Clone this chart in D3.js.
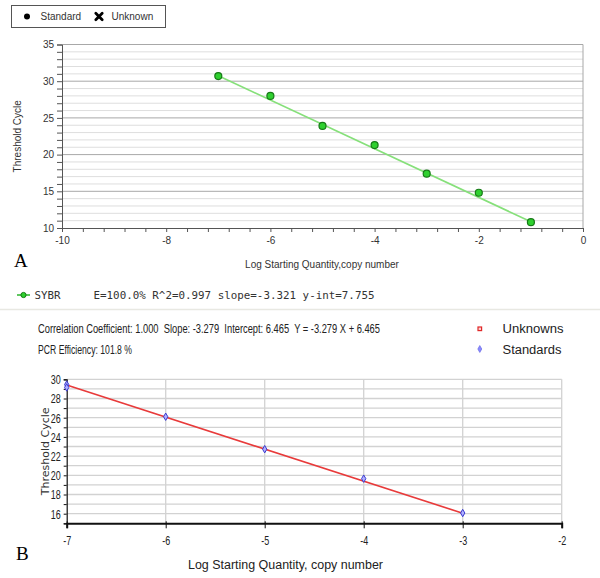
<!DOCTYPE html>
<html>
<head>
<meta charset="utf-8">
<script src="https://cdn.jsdelivr.net/npm/d3@7"></script>
<style>
  html, body { margin: 0; padding: 0; background: #fff; }
  svg { display: block; }
</style>
</head>
<body>
<svg id="chart" width="600" height="578"></svg>
<script>
// ---------- Data: panel A ----------
const stdLogQtyA = [-7, -6, -5, -4, -3, -2, -1];
const stdCtA = [30.7, 28.0, 23.9, 21.3, 17.4, 14.8, 10.8];
const fitLogQtyA = [-7, -1];
const fitCtA = [30.75, 10.85];
const yMajorTicksA = [10, 15, 20, 25, 30, 35];
const xLabelTicksA = [-10, -8, -6, -4, -2, 0];
const statsA = "E=100.0% R^2=0.997 slope=-3.321 y-int=7.755";

// ---------- Data: panel B ----------
const stdLogQtyB = [-7, -7, -6, -5, -4, -3];
const stdCtB = [29.45, 29.15, 26.1, 22.72, 19.65, 16.07];
const fitLogQtyB = [-7, -3];
const fitCtB = [29.4, 16.05];
const yLabelTicksB = [16, 18, 20, 22, 24, 26, 28, 30];
const xTicksB = [-7, -6, -5, -4, -3, -2];
const statsB1 = "Correlation Coefficient: 1.000  Slope: -3.279  Intercept: 6.465  Y = -3.279 X + 6.465";
const statsB2 = "PCR Efficiency: 101.8 %";

const svg = d3.select("#chart");
const sans = "'Liberation Sans', Arial, sans-serif";
const narrow = "'Liberation Sans Narrow', 'Liberation Sans', Arial, sans-serif";

// =================== PANEL A ===================
const xA = d3.scaleLinear().domain([-10, 0]).range([62, 583]);
const yA = d3.scaleLinear().domain([10, 35]).range([228, 44.5]);
const gA = svg.append("g");

// legend box
const leg = gA.append("g");
leg.append("rect").attr("x", 11.5).attr("y", 5.5).attr("width", 154).attr("height", 22)
  .attr("fill", "#fff").attr("stroke", "#555").attr("stroke-width", 1);
leg.append("circle").attr("cx", 27).attr("cy", 16.5).attr("r", 3).attr("fill", "#000");
leg.append("text").attr("x", 40.5).attr("y", 20).attr("font-family", sans).attr("font-size", 10)
  .attr("fill", "#333").text("Standard");
const cx = 99, cy = 16.5, s = 3.2;
leg.append("path").attr("d", `M${cx - s},${cy - s}L${cx + s},${cy + s}M${cx + s},${cy - s}L${cx - s},${cy + s}`)
  .attr("stroke", "#000").attr("stroke-width", 2.8).attr("stroke-linecap", "round");
leg.append("text").attr("x", 111.5).attr("y", 20).attr("font-family", sans).attr("font-size", 10)
  .attr("fill", "#333").text("Unknown");

// minor gridlines
const minorY = d3.range(10, 35.5, 1);
gA.append("g").selectAll("line").data(minorY.filter(v => v % 5 !== 0)).join("line")
  .attr("x1", xA(-10)).attr("x2", xA(0)).attr("y1", d => yA(d)).attr("y2", d => yA(d))
  .attr("stroke", "#dedede").attr("stroke-width", 1);
// major gridlines
gA.append("g").selectAll("line").data(yMajorTicksA.filter(v => v > 10)).join("line")
  .attr("x1", xA(-10)).attr("x2", xA(0)).attr("y1", d => yA(d)).attr("y2", d => yA(d))
  .attr("stroke", "#a8a8a8").attr("stroke-width", 1);
// right border
gA.append("line").attr("x1", xA(0)).attr("x2", xA(0)).attr("y1", yA(35)).attr("y2", yA(10))
  .attr("stroke", "#a8a8a8");

// y axis A
const yAxA = gA.append("g").attr("transform", `translate(${xA(-10)},0)`)
  .call(d3.axisLeft(yA).tickValues(minorY).tickSize(5).tickPadding(3)
    .tickFormat(d => d % 5 === 0 ? d : ""));
yAxA.selectAll("text").attr("font-family", sans).attr("font-size", 10).attr("fill", "#333");
yAxA.selectAll("line").attr("stroke", "#555");
yAxA.select(".domain").attr("stroke", "#555");

// x axis A
const xMinorA = d3.range(0, 26).map(i => -10 + i * 0.4);
const xAxA = gA.append("g").attr("transform", `translate(0,${yA(10)})`)
  .call(d3.axisBottom(xA).tickValues(xMinorA).tickSize(4).tickPadding(5)
    .tickFormat(d => {
      const r = Math.round(d);
      return (Math.abs(d - r) < 1e-6 && xLabelTicksA.includes(r)) ? String(r) : "";
    }));
xAxA.selectAll("text").attr("font-family", sans).attr("font-size", 10).attr("fill", "#333");
xAxA.selectAll("line").attr("stroke", "#555");
xAxA.select(".domain").attr("stroke", "#555");

// axis titles A
gA.append("text").attr("transform", `translate(21,${(yA(35) + yA(10)) / 2}) rotate(-90)`)
  .attr("text-anchor", "middle").attr("font-family", sans).attr("font-size", 10).attr("fill", "#333")
  .text("Threshold Cycle");
gA.append("text").attr("x", 322).attr("y", 268).attr("text-anchor", "middle")
  .attr("font-family", sans).attr("font-size", 10).attr("fill", "#333")
  .text("Log Starting Quantity,copy number");

// fit line A
gA.append("line")
  .attr("x1", xA(fitLogQtyA[0])).attr("y1", yA(fitCtA[0]))
  .attr("x2", xA(fitLogQtyA[1])).attr("y2", yA(fitCtA[1]))
  .attr("stroke", "#86e07a").attr("stroke-width", 1.6);

// points A
gA.append("g").selectAll("circle").data(stdLogQtyA.map((x, i) => [x, stdCtA[i]])).join("circle")
  .attr("cx", d => xA(d[0])).attr("cy", d => yA(d[1])).attr("r", 3.5)
  .attr("fill", "#2fd02f").attr("stroke", "#167a16").attr("stroke-width", 1.2);

// Panel label A
svg.append("text").attr("x", 14).attr("y", 266.5).attr("font-family", "'Liberation Serif', 'Times New Roman', serif")
  .attr("font-size", 19).attr("fill", "#000").text("A");

// SYBR legend row
svg.append("line").attr("x1", 17).attr("x2", 30).attr("y1", 295).attr("y2", 295)
  .attr("stroke", "#2db52d").attr("stroke-width", 1.5);
svg.append("circle").attr("cx", 23.5).attr("cy", 295).attr("r", 2.6)
  .attr("fill", "#2fd02f").attr("stroke", "#167a16").attr("stroke-width", 1);
svg.append("text").attr("x", 34.5).attr("y", 298.5).attr("font-family", "'DejaVu Sans Mono', monospace")
  .attr("font-size", 10.8).attr("fill", "#333").text("SYBR");
svg.append("text").attr("x", 93.5).attr("y", 298.5).attr("font-family", "'DejaVu Sans Mono', monospace")
  .attr("font-size", 10.8).attr("fill", "#333").attr("textLength", 281).attr("lengthAdjust", "spacingAndGlyphs")
  .text(statsA);

// separator
svg.append("line").attr("x1", 0).attr("x2", 600).attr("y1", 309.5).attr("y2", 309.5)
  .attr("stroke", "#e8e8e2").attr("stroke-width", 1.5);

// =================== PANEL B ===================
const xB = d3.scaleLinear().domain([-7, -2]).range([66.7, 561.7]);
const yB = d3.scaleLinear().domain([15, 30]).range([523.3, 379.3]);
const gB = svg.append("g");

gB.append("text").attr("x", 38).attr("y", 332.5).attr("font-family", narrow).attr("font-size", 12.5)
  .style("white-space", "pre")
  .attr("fill", "#222").attr("textLength", 342).attr("lengthAdjust", "spacingAndGlyphs").text(statsB1);
gB.append("text").attr("x", 38).attr("y", 353.5).attr("font-family", narrow).attr("font-size", 12.5)
  .attr("fill", "#222").attr("textLength", 94).attr("lengthAdjust", "spacingAndGlyphs").text(statsB2);

// legend B
gB.append("rect").attr("x", 478).attr("y", 327).attr("width", 3.6).attr("height", 3.6)
  .attr("fill", "#fbd0d0").attr("stroke", "#e02828").attr("stroke-width", 1.2);
gB.append("path").attr("d", d3.symbol(d3.symbolDiamond, 14)()).attr("transform", "translate(479.8,349)")
  .attr("fill", "#8a8aff").attr("stroke", "#6060e0").attr("stroke-width", 0.6);
gB.append("text").attr("x", 502.5).attr("y", 333).attr("font-family", narrow).attr("font-size", 12.5)
  .attr("fill", "#222").attr("textLength", 61).attr("lengthAdjust", "spacingAndGlyphs").text("Unknowns");
gB.append("text").attr("x", 502.5).attr("y", 353.5).attr("font-family", narrow).attr("font-size", 12.5)
  .attr("fill", "#222").attr("textLength", 59).attr("lengthAdjust", "spacingAndGlyphs").text("Standards");

// gridlines B
const yGridB = d3.range(15, 30.5, 1);
gB.append("g").selectAll("line").data(yGridB.filter(v => v > 15)).join("line")
  .attr("x1", xB(-7)).attr("x2", xB(-2)).attr("y1", d => yB(d)).attr("y2", d => yB(d))
  .attr("stroke", "#d2d2d2").attr("stroke-width", 1.3);
gB.append("g").selectAll("line").data(xTicksB.filter(v => v > -7)).join("line")
  .attr("x1", d => xB(d)).attr("x2", d => xB(d)).attr("y1", yB(30)).attr("y2", yB(15))
  .attr("stroke", "#d2d2d2").attr("stroke-width", 1.3);

// y axis B
const yAxB = gB.append("g").attr("transform", `translate(${xB(-7)},0)`)
  .call(d3.axisLeft(yB).tickValues(yGridB).tickSize(3).tickPadding(3)
    .tickFormat(d => yLabelTicksB.includes(d) ? d : ""));
yAxB.selectAll("text").attr("font-family", narrow).attr("font-size", 13.5).attr("fill", "#222")
  .each(function () { if (this.textContent) d3.select(this).attr("textLength", 10).attr("lengthAdjust", "spacingAndGlyphs"); });
yAxB.selectAll("line").attr("stroke", "#111");
yAxB.select(".domain").attr("stroke", "#111").attr("stroke-width", 1.2);

// x axis B
const xAxB = gB.append("g").attr("transform", `translate(0,${yB(15)})`)
  .call(d3.axisBottom(xB).tickValues(xTicksB).tickSize(5).tickPadding(7).tickFormat(d => d));
xAxB.selectAll("text").attr("font-family", narrow).attr("font-size", 13.5).attr("fill", "#222")
  .attr("textLength", 8).attr("lengthAdjust", "spacingAndGlyphs");
xAxB.selectAll("line").attr("stroke", "#111").attr("y1", -2);
xAxB.select(".domain").attr("stroke", "#111").attr("stroke-width", 2);

// axis titles B
gB.append("text").attr("transform", `translate(49,${(yB(30) + yB(15)) / 2}) rotate(-90)`)
  .attr("text-anchor", "middle").attr("font-family", "'DejaVu Sans', Verdana, sans-serif").attr("font-size", 11)
  .attr("fill", "#333").text("Threshold Cycle");
gB.append("text").attr("x", 285.5).attr("y", 568.5).attr("text-anchor", "middle")
  .attr("font-family", narrow).attr("font-size", 12.5).attr("fill", "#222")
  .attr("textLength", 195).attr("lengthAdjust", "spacingAndGlyphs")
  .text("Log Starting Quantity, copy number");

// fit line B
gB.append("line")
  .attr("x1", xB(fitLogQtyB[0])).attr("y1", yB(fitCtB[0]))
  .attr("x2", xB(fitLogQtyB[1])).attr("y2", yB(fitCtB[1]))
  .attr("stroke", "#e83a3a").attr("stroke-width", 1.6);

// points B
gB.append("g").selectAll("path").data(stdLogQtyB.map((x, i) => [x, stdCtB[i]])).join("path")
  .attr("d", d3.symbol(d3.symbolDiamond, 16)())
  .attr("transform", d => `translate(${xB(d[0])},${yB(d[1])})`)
  .attr("fill", "#b0b0ff").attr("stroke", "#3a3ad0").attr("stroke-width", 1);

// Panel label B
svg.append("text").attr("x", 16).attr("y", 559.5).attr("font-family", "'Liberation Serif', 'Times New Roman', serif")
  .attr("font-size", 19).attr("fill", "#000").text("B");
</script>
</body>
</html>
